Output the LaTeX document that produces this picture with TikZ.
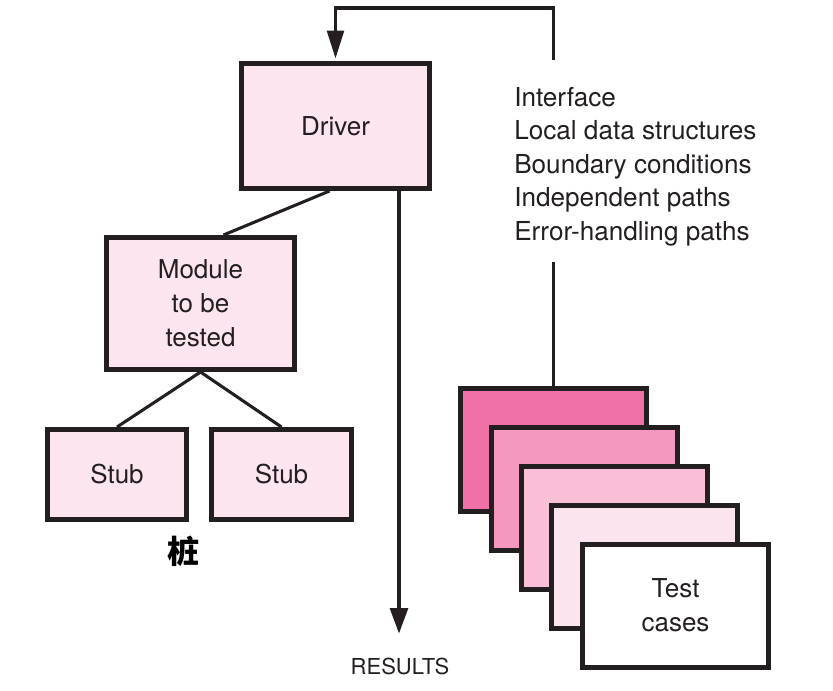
\documentclass[tikz,border=0pt]{standalone}
\usepackage{fontspec}
\setmainfont{TeX Gyre Heros}
\newfontfamily\cjkfont{Noto Sans CJK SC}
\usetikzlibrary{arrows.meta,calc}
\definecolor{ink}{RGB}{35,31,32}
\definecolor{boxpink}{RGB}{252,229,239}
\definecolor{cardA}{RGB}{240,112,168}
\definecolor{cardB}{RGB}{244,152,192}
\definecolor{cardC}{RGB}{248,191,214}
\definecolor{cardD}{RGB}{252,228,238}
\tikzset{
  modbox/.style={draw=ink, line width=3.75pt, fill=boxpink, inner sep=0pt,
    text=ink, font=\fontsize{19.5pt}{25.5pt}\selectfont, align=center},
  card/.style={draw=ink, line width=3.75pt, inner sep=0pt,
    minimum width=139.5pt, minimum height=92.25pt, text=ink,
    font=\fontsize{19.5pt}{25.5pt}\selectfont, align=center},
  thinline/.style={draw=ink, line width=2.3pt},
  fbline/.style={draw=ink, line width=2.6pt},
  resline/.style={draw=ink, line width=3.6pt},
  listtext/.style={anchor=base west, inner sep=0pt, text=ink,
    font=\fontsize{19.6pt}{25pt}\selectfont},
}
\begin{document}
\begin{tikzpicture}[x=0.75pt, y=-0.75pt]
\useasboundingbox (0,0) rectangle (833,690);
% boxes
\node[modbox, minimum width=141pt, minimum height=93.75pt] (driver) at (335.5,126) {Driver};
\node[modbox, minimum width=141pt, minimum height=99pt] (module) at (200.5,303.5) {Module\\to be\\tested};
\node[modbox, minimum width=104.25pt, minimum height=67.5pt] (stubA) at (117,474.5) {Stub};
\node[modbox, minimum width=105pt, minimum height=67.5pt] (stubB) at (281.5,474.5) {Stub};
\node[inner sep=0pt, font=\cjkfont\bfseries\fontsize{24pt}{26pt}\selectfont] (zhuang) at (183,551) {桩};
% connectors in tree
\draw[thinline] ($(driver.south)+(-6,0)$) -- ($(module.north)+(23,0)$);
\draw[thinline] (module.south) -- (stubA.north);
\draw[thinline] (module.south) -- (stubB.north);
% results
\coordinate (resEnd) at (399,634);
\draw[resline, -{Triangle[length=19.5pt,width=13pt]}] (driver.south -| resEnd) -- (resEnd);
\node[inner sep=0pt, text=ink, font=\fontsize{16.5pt}{18pt}\selectfont] (results) at (400,666) {RESULTS};
% test cases stack
\node[card, fill=cardA] (cardA) at (553.5,450) {};
\node[card, fill=cardB] (cardB) at (584,489) {};
\node[card, fill=cardC] (cardC) at (614.5,528) {};
\node[card, fill=cardD] (cardD) at (644,567) {};
\node[card, fill=white] (cardE) at (675.5,605.5) {Test\\cases};
% list text
\node[listtext] (l1) at (514,106) {Interface};
\node[listtext] (l2) at (514,139.5) {Local data structures};
\node[listtext] (l3) at (514,173) {Boundary conditions};
\node[listtext] (l4) at (514,206.5) {Independent paths};
\node[listtext] (l5) at (514,240) {Error-handling paths};
% feedback line
\coordinate (tcTop) at (553.5,262);
\coordinate (fbStart) at (553.5,60);
\coordinate (fbTop) at (553.5,8);
\draw[fbline] (cardA.north) -- (tcTop);
\draw[fbline, -{Triangle[length=21pt,width=12.5pt]}, shorten >=1.8pt] (fbStart) -- (fbTop) -| (driver.north);
\end{tikzpicture}
\end{document}
